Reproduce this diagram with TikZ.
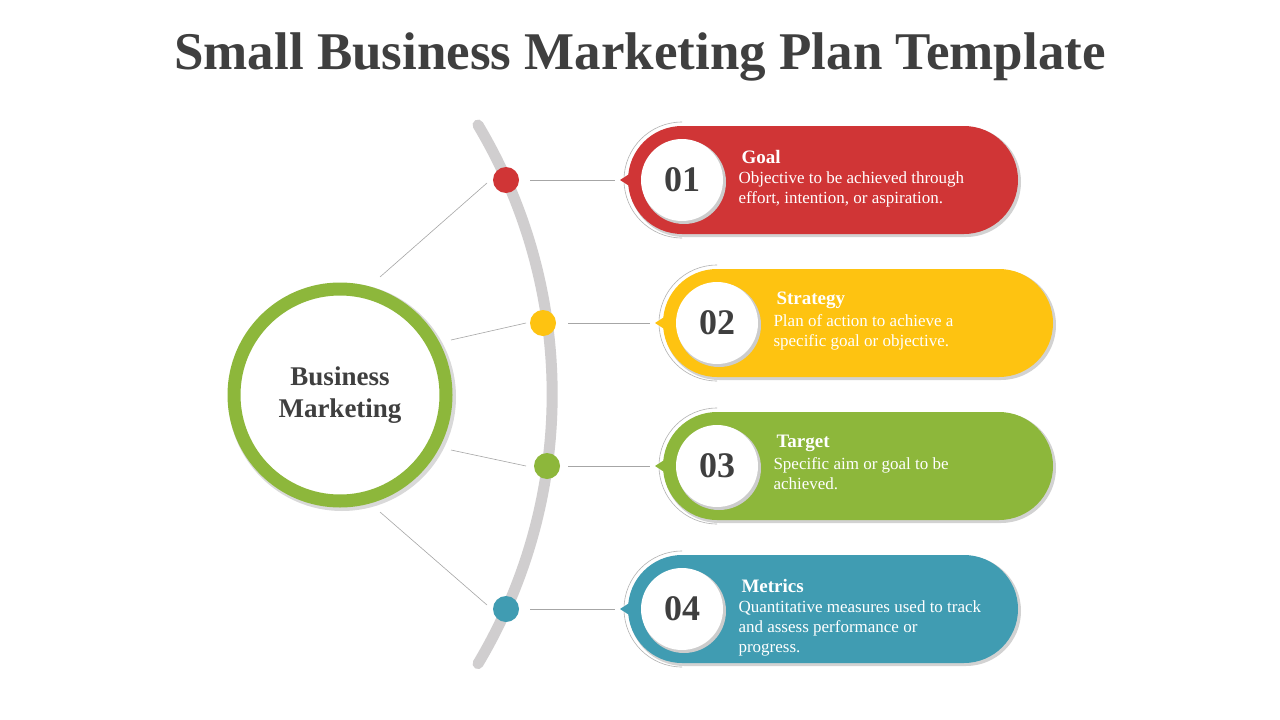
\documentclass[tikz,border=0pt]{standalone}
\usepackage{fontspec}
\setmainfont{Liberation Serif}
\definecolor{cred}{HTML}{D03536}
\definecolor{cyel}{HTML}{FEC311}
\definecolor{cgrn}{HTML}{8DB73B}
\definecolor{cblu}{HTML}{409CB2}
\definecolor{ctxt}{HTML}{3F3F3F}
\definecolor{carc}{HTML}{D0CECF}
\tikzset{conn/.style={draw=gray!70,line width=0.6pt},
 numtxt/.style={font=\fontsize{36}{36}\selectfont\bfseries,text=ctxt},
 headtxt/.style={font=\fontsize{19}{19}\selectfont\bfseries,text=white,anchor=west},
 bodytxt/.style={font=\fontsize{17}{20}\selectfont,text=white,anchor=north west,align=left}}
\newcommand{\pill}[7]{% x1,y,color,num,head,body,name
  \fill[gray!35,rounded corners=55pt] (#1+1,#2-53) rectangle (#1+393,#2+57);
  \fill[#3,rounded corners=54pt] (#1,#2-54) rectangle (#1+390,#2+54);
  \draw[gray!60,line width=0.6pt] (#1+54,#2+58) arc[start angle=90,end angle=270,radius=58];
  \fill[#3] (#1-8,#2) -- (#1+6,#2-9) -- (#1+6,#2+9) -- cycle;
  \fill[gray!40] (#1+56,#2+2) circle (42);
  \node[circle,fill=white,minimum size=82pt,inner sep=0,numtxt] (#7n) at (#1+54,#2) {#4};
  \node[headtxt] (#7h) at (#1+110,#2-23) {#5};
  \node[bodytxt] (#7b) at (#1+107,#2-12) {#6};
  \coordinate (#7p) at (#1-13,#2);
}
\begin{document}
\begin{tikzpicture}[x=1pt,y=-1pt]
\useasboundingbox (0,0) rectangle (1280,720);
\fill[white] (0,0) rectangle (1280,720);
\node[font=\fontsize{53}{53}\selectfont\bfseries,text=ctxt] (title) at (640,57) {Small Business Marketing Plan Template};
% arc
\draw[carc,line width=11pt,line cap=round] (478,125) arc[start angle={-30.8},end angle={30.8},radius=526];
% center circle
\fill[gray!30] (342,397) circle (114);
\node[circle,draw=cgrn,line width=13pt,fill=white,minimum size=212pt,inner sep=0,
  font=\fontsize{27}{32}\selectfont\bfseries,text=ctxt,align=center] (c) at (340,395) {Business\\Marketing};
% dots
\fill[cred] (506,180) circle (13) coordinate (d1);
\fill[cyel] (543,323) circle (13) coordinate (d2);
\fill[cgrn] (547,466) circle (13) coordinate (d3);
\fill[cblu] (506,609) circle (13) coordinate (d4);
\pill{628}{180}{cred}{01}{Goal}{Objective to be achieved through\\effort, intention, or aspiration.}{a}
\pill{663}{323}{cyel}{02}{Strategy}{Plan of action to achieve a\\specific goal or objective.}{b}
\pill{663}{466}{cgrn}{03}{Target}{Specific aim or goal to be\\achieved.}{e}
\pill{628}{609}{cblu}{04}{Metrics}{Quantitative measures used to track\\and assess performance or\\progress.}{f}
\coordinate (s1) at (380,277); \coordinate (t1) at (487,183);
\coordinate (s2) at (451,340); \coordinate (t2) at (526,323);
\coordinate (s3) at (451,450); \coordinate (t3) at (526,466);
\coordinate (s4) at (380,512); \coordinate (t4) at (487,605);
\draw[conn] (s1) -- (t1); \draw[conn] (s2) -- (t2);
\draw[conn] (s3) -- (t3); \draw[conn] (s4) -- (t4);
\coordinate (u1) at (530,180); \coordinate (u2) at (568,323);
\coordinate (u3) at (568,466); \coordinate (u4) at (530,609);
\draw[conn] (u1) -- (ap); \draw[conn] (u2) -- (bp);
\draw[conn] (u3) -- (ep); \draw[conn] (u4) -- (fp);
\end{tikzpicture}
\end{document}
